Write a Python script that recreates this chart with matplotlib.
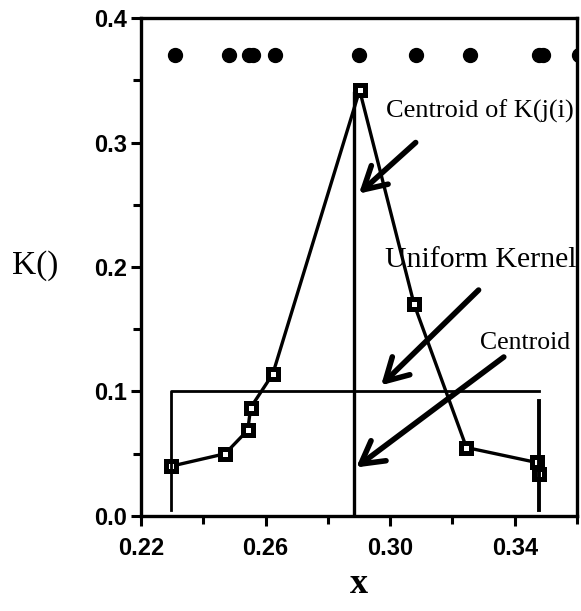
import matplotlib
matplotlib.use("Agg")
import matplotlib.pyplot as plt

# sample positions and kernel weights K(j(i))
x_pts = [0.2297, 0.2470, 0.2543, 0.2552, 0.2623, 0.2902, 0.3077, 0.3245, 0.3470, 0.3478]
k_vals = [0.040, 0.050, 0.069, 0.087, 0.114, 0.342, 0.170, 0.055, 0.043, 0.034]

# raw observations shown as a strip along the top
dot_x = [0.2310, 0.2484, 0.2547, 0.2560, 0.2629, 0.2900, 0.3084, 0.3255, 0.3478, 0.3490, 0.3606]
dot_y = 0.37

# uniform kernel box
kern_left, kern_right, kern_height = 0.2297, 0.3477, 0.10
kern_floor = 0.005
kern_right_top = 0.092

# centroid of the weighted kernel
centroid_x = 0.2885
centroid_top = 0.340

serif = "Liberation Serif"
sans = "Liberation Sans"

fig = plt.figure(figsize=(5.81, 6.11), dpi=100)
ax = fig.add_axes([0.2427, 0.1555, 0.7504, 0.8150])

ax.plot(dot_x, [dot_y] * len(dot_x), "o", color="black", ms=10, clip_on=True)
ax.plot(x_pts, k_vals, "-s", color="black", lw=2.4, ms=7, mfc="white", mec="black", mew=3.6)

ax.plot([kern_left, kern_left, kern_right], [kern_floor, kern_height, kern_height],
        color="black", lw=2.0)
ax.plot([kern_right, kern_right], [kern_floor, kern_right_top], color="black", lw=2.8)
ax.plot([centroid_x, centroid_x], [0.0, centroid_top], color="black", lw=2.4)

arrow = dict(arrowstyle="->, head_length=0.8, head_width=0.45", color="black", lw=4,
             mutation_scale=20, shrinkA=0, shrinkB=0)
ax.annotate("", xy=(0.2900, 0.259), xytext=(0.3082, 0.300), arrowprops=arrow)
ax.annotate("", xy=(0.2971, 0.105), xytext=(0.3284, 0.1815), arrowprops=arrow)
ax.annotate("", xy=(0.2891, 0.039), xytext=(0.3365, 0.1277), arrowprops=arrow)

ax.text(0.2987, 0.325, "Centroid of K(j(i)", fontsize=19, family=serif, va="center", ha="left")
ax.text(0.2985, 0.2056, "Uniform Kernel", fontsize=21.5, family=serif, va="center", ha="left")
ax.text(0.3287, 0.139, "Centroid", fontsize=18.5, family=serif, va="center", ha="left")

ax.set_xlim(0.22, 0.36)
ax.set_ylim(0.0, 0.4)
ax.set_xticks([0.22, 0.26, 0.30, 0.34])
ax.set_xticklabels(["0.22", "0.26", "0.30", "0.34"])
ax.set_xticks([0.24, 0.28, 0.32, 0.36], minor=True)
ax.set_yticks([0.0, 0.1, 0.2, 0.3, 0.4])
ax.set_yticklabels(["0.0", "0.1", "0.2", "0.3", "0.4"])
ax.set_yticks([0.05, 0.15, 0.25, 0.35], minor=True)

for spine in ax.spines.values():
    spine.set_linewidth(2.4)
ax.tick_params(which="major", direction="out", length=7, width=2.2, pad=8)
ax.tick_params(which="minor", direction="out", length=6, width=2.2)
for lab in ax.get_xticklabels() + ax.get_yticklabels():
    lab.set_fontfamily(sans)
    lab.set_fontweight("bold")
    lab.set_fontsize(17)
ax.tick_params(axis="y", pad=3)

ax.set_xlabel("x", fontsize=26, family=serif, fontweight="bold", labelpad=6)
fig.text(0.060, 0.566, "K()", fontsize=24, family=serif, ha="center", va="center")

fig.savefig("out.png", dpi=100)
